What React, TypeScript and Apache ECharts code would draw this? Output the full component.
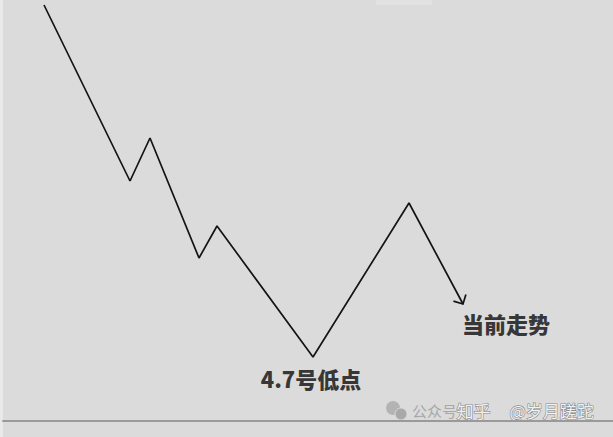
import React, { useEffect, useRef } from 'react';
import * as echarts from 'echarts';

// 走势折线（x：时间刻度，y：价位）
const trendX = [41, 127, 147, 196, 214, 310, 406, 460];
const trendY = [416, 240, 283, 163, 195, 64, 218, 117];

// 标注：对应折线上的点位
const noteIndex = [5, 7];
const noteText = ['4.7号低点', '当前走势'];
const noteOffset = [[-2, 21], [43, 19]];

const watermark = ['公众号', '知乎', '@岁月蹉跎'];

const FONT = '"Noto Sans CJK SC", "Noto Sans", sans-serif';

const App: React.FC = () => {
  const chartRef = useRef<HTMLDivElement>(null);

  useEffect(() => {
    if (!chartRef.current) return;
    const chart = echarts.init(chartRef.current, undefined, { renderer: 'svg' });

    const option: echarts.EChartsOption = {
      animation: false,
      backgroundColor: '#dbdbdb',
      grid: { left: 3, right: 0, top: 0, bottom: 16 },
      xAxis: {
        type: 'value',
        min: 0,
        max: 610,
        axisLine: { show: true, onZero: false, lineStyle: { color: '#9a9a9a', width: 2 } },
        axisTick: { show: false },
        axisLabel: { show: false },
        splitLine: { show: false },
      },
      yAxis: {
        type: 'value',
        min: 0,
        max: 421,
        axisLine: { show: false },
        axisTick: { show: false },
        axisLabel: { show: false },
        splitLine: { show: false },
      },
      series: [
        {
          type: 'line',
          data: trendX.map((x, i) => [x, trendY[i]]),
          showSymbol: false,
          lineStyle: { color: '#141414', width: 1.7 },
          silent: true,
        },
        {
          type: 'scatter',
          symbolSize: 0,
          silent: true,
          data: noteIndex.map((idx, i) => ({
            value: [trendX[idx], trendY[idx]],
            label: {
              show: true,
              position: 'inside',
              offset: noteOffset[i],
              formatter: noteText[i],
              color: '#0a0a0a',
              fontSize: 22,
              fontWeight: 900,
              fontFamily: FONT,
            },
          })),
        },
      ],
    };

    chart.setOption(option);

    // 箭头：沿最后一段方向画开口箭头
    const n = trendX.length;
    const tip = chart.convertToPixel({ gridIndex: 0 }, [trendX[n - 1], trendY[n - 1]]) as number[];
    const prev = chart.convertToPixel({ gridIndex: 0 }, [trendX[n - 2], trendY[n - 2]]) as number[];
    const back = Math.atan2(prev[1] - tip[1], prev[0] - tip[0]);
    const len = 10;
    const spread = Math.PI / 4;
    const wingA = [tip[0] + len * Math.cos(back - spread), tip[1] + len * Math.sin(back - spread)];
    const wingB = [tip[0] + len * Math.cos(back + spread), tip[1] + len * Math.sin(back + spread)];

    chart.setOption({
      graphic: [
        { type: 'rect', left: 0, top: 0, shape: { width: 3, height: 437 }, style: { fill: '#e9e9e9' }, silent: true },
        { type: 'rect', left: 376, top: 0, shape: { width: 56, height: 5 }, style: { fill: '#e1e1e1' }, silent: true },
        {
          type: 'polyline',
          shape: { points: [wingA, tip, wingB] },
          style: { stroke: '#141414', lineWidth: 1.7, fill: 'none' },
          silent: true,
        },
        { type: 'circle', shape: { cx: 393, cy: 408, r: 7 }, style: { fill: '#b3b3b3' }, silent: true },
        { type: 'circle', shape: { cx: 401, cy: 414, r: 6 }, style: { fill: '#a9a9a9', stroke: '#dbdbdb', lineWidth: 1 }, silent: true },
        {
          type: 'text',
          left: 412,
          top: 403,
          style: { text: watermark[0], fill: '#a8a8a8', font: `15px ${FONT}` },
          silent: true,
        },
        {
          type: 'text',
          left: 456,
          top: 401,
          style: {
            text: watermark[1],
            fill: '#f2f2f2',
            stroke: '#888888',
            lineWidth: 1.2,
            font: `17px ${FONT}`,
          },
          silent: true,
        },
        {
          type: 'text',
          left: 509,
          top: 401,
          style: {
            text: watermark[2],
            fill: '#f2f2f2',
            stroke: '#888888',
            lineWidth: 1.2,
            font: `17px ${FONT}`,
          },
          silent: true,
        },
      ],
    });

    return () => {
      chart.dispose();
    };
  }, []);

  return (
    <div
      ref={chartRef}
      style={{ position: 'fixed', left: 0, top: 0, width: 613, height: 437 }}
    />
  );
};

export default App;
